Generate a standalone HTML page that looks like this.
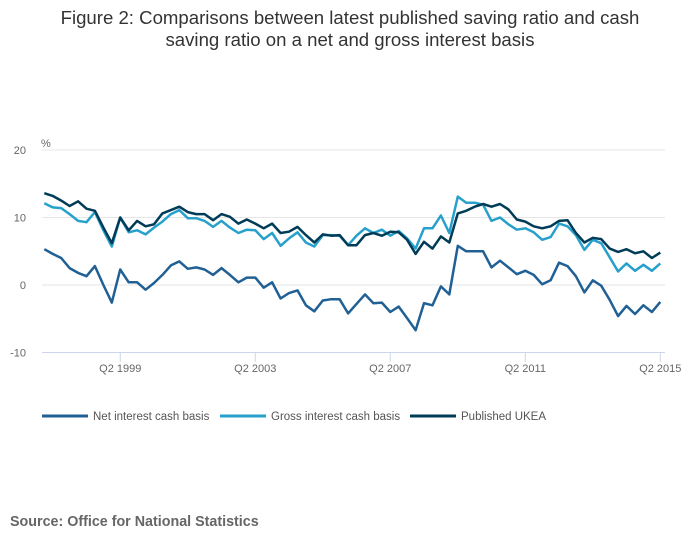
<!DOCTYPE html>
<html><head><meta charset="utf-8"><style>
body{margin:0;background:#fff;width:700px;height:549px;overflow:hidden;font-family:"Liberation Sans",sans-serif}
</style></head><body>
<svg id="chart" width="700" height="549" xmlns="http://www.w3.org/2000/svg">
<text x="350" y="24" text-anchor="middle" font-size="18.6" fill="#333">Figure 2: Comparisons between latest published saving ratio and cash</text>
<text x="350" y="46" text-anchor="middle" font-size="18.6" fill="#333">saving ratio on a net and gross interest basis</text>
<text x="41" y="147" font-size="11" fill="#666">%</text>
<g id="grid"></g><g id="lines"></g><g id="xaxis"></g>
<g font-size="11.5" fill="#555">
<line x1="42" y1="416" x2="88" y2="416" stroke="#206095" stroke-width="3"/>
<text x="93" y="420">Net interest cash basis</text>
<line x1="220" y1="416" x2="266" y2="416" stroke="#27a0cc" stroke-width="3"/>
<text x="271" y="420">Gross interest cash basis</text>
<line x1="410" y1="416" x2="456" y2="416" stroke="#003c57" stroke-width="3"/>
<text x="461" y="420">Published UKEA</text>
</g>
<text x="10" y="526" font-size="14.3" font-weight="bold" fill="#666">Source: Office for National Statistics</text>
</svg>
<script>
const net=[5.3,4.6,4.0,2.5,1.8,1.3,2.8,0,-2.6,2.3,0.4,0.4,-0.7,0.3,1.5,2.9,3.5,2.4,2.6,2.3,1.5,2.5,1.5,0.4,1.1,1.1,-0.4,0.4,-2.0,-1.2,-0.8,-3.0,-3.9,-2.3,-2.1,-2.1,-4.2,-2.8,-1.4,-2.7,-2.6,-4.0,-3.2,-4.9,-6.7,-2.7,-3.0,-0.2,-1.4,5.8,5.0,5.0,5.0,2.6,3.6,2.6,1.6,2.1,1.5,0.1,0.7,3.3,2.8,1.3,-1.1,0.7,-0.1,-2.2,-4.6,-3.1,-4.3,-3.0,-4.0,-2.5];
const gross=[12.1,11.5,11.4,10.5,9.5,9.3,10.8,8.1,5.7,10.0,7.8,8.1,7.5,8.5,9.4,10.5,11.1,9.9,9.9,9.5,8.6,9.5,8.5,7.7,8.2,8.1,6.8,7.7,5.8,6.9,7.8,6.3,5.7,7.4,7.4,7.3,5.9,7.3,8.4,7.7,8.2,7.3,8.0,6.9,5.4,8.4,8.4,10.3,7.7,13.1,12.2,12.2,11.9,9.5,10.0,9.0,8.2,8.4,7.8,6.7,7.1,9.1,8.7,7.4,5.2,6.7,6.2,4.1,2.0,3.2,2.1,3.0,2.1,3.2];
const published=[13.6,13.2,12.5,11.7,12.4,11.3,11.0,8.5,6.2,10.0,8.1,9.5,8.7,9.0,10.6,11.1,11.6,10.8,10.5,10.5,9.6,10.5,10.1,9.1,9.7,9.1,8.4,9.1,7.7,7.9,8.6,7.4,6.3,7.5,7.3,7.4,5.9,5.9,7.4,7.7,7.3,7.9,7.8,6.7,4.6,6.4,5.4,7.2,6.3,10.6,11.0,11.6,12.0,11.6,12.0,11.2,9.7,9.4,8.7,8.4,8.7,9.5,9.6,7.7,6.3,7.0,6.8,5.4,4.9,5.3,4.7,5.0,4.0,4.8];
const yTicks=[20,10,0,-10];
const xTickLabels=["Q2 1999","Q2 2003","Q2 2007","Q2 2011","Q2 2015"];
const xTickIndex=[9,25,41,57,73];
const NS="http://www.w3.org/2000/svg";
function xs(i){return 44.3+i*(660.3-44.3)/73;}
function ys(v){return 285-v*6.75;}
function mk(t,a,p){const e=document.createElementNS(NS,t);for(const k in a)e.setAttribute(k,a[k]);p.appendChild(e);return e;}
const grid=document.getElementById('grid');
yTicks.forEach(v=>{
 if(v!==-10){const l=mk('line',{x1:42,x2:665,y1:ys(v),y2:ys(v),stroke:'#e6e6e6','stroke-width':1},grid);
 
 }
 const t=mk('text',{x:26,y:ys(v)+4,'text-anchor':'end','font-size':11,fill:'#666'},grid);
 
 
 t.textContent=v;
});
const xa=document.getElementById('xaxis');
const al=mk('line',{x1:42,x2:665,y1:352.5,y2:352.5,stroke:'#ccd6eb','stroke-width':1},xa);


xTickIndex.forEach((ix,k)=>{
 const tk=mk('line',{x1:xs(ix),x2:xs(ix),y1:352,y2:362,stroke:'#ccd6eb'},xa);
 
 
 const t=mk('text',{x:xs(ix),y:372,'text-anchor':'middle','font-size':11,fill:'#666'},xa);
 
 
 t.textContent=xTickLabels[k];
});
const lines=document.getElementById('lines');
[[net,'#206095','net-interest-line'],[gross,'#27a0cc','gross-interest-line'],[published,'#003c57','published-ukea-line']].forEach(([d,c,n])=>{
 const p=mk('path',{d:d.map((v,i)=>(i?'L':'M')+xs(i).toFixed(1)+' '+ys(v).toFixed(1)).join(''),fill:'none',stroke:c,'stroke-width':2.5,'stroke-linejoin':'round'},lines);
 
 
});
</script>
</body></html>
